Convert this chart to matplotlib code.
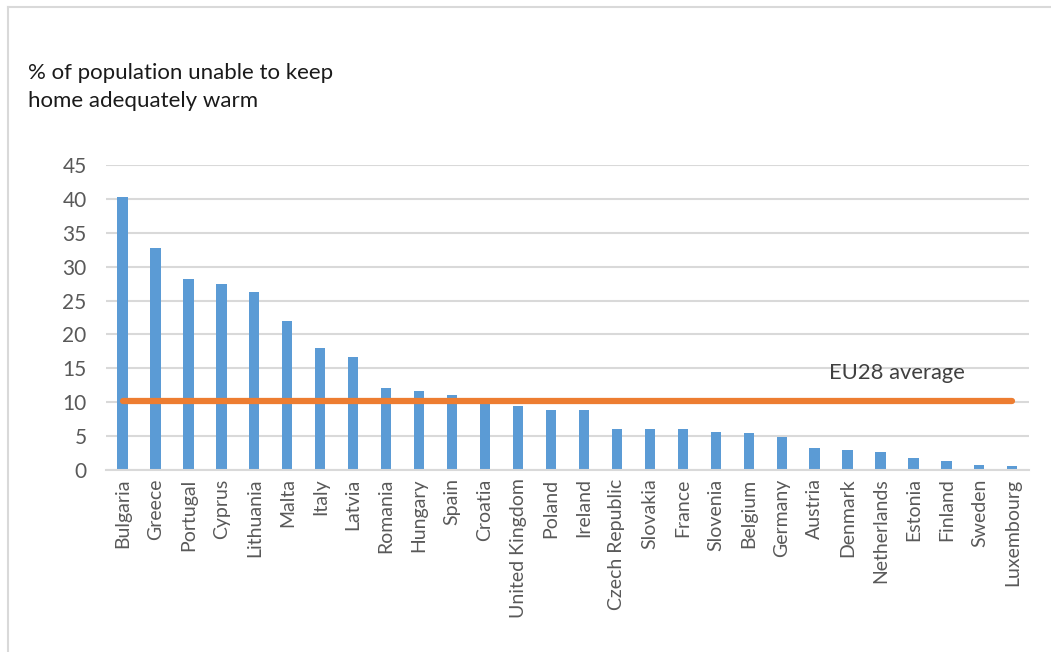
import matplotlib.pyplot as plt
from matplotlib.lines import Line2D

countries = ["Bulgaria", "Greece", "Portugal", "Cyprus", "Lithuania", "Malta", "Italy",
             "Latvia", "Romania", "Hungary", "Spain", "Croatia", "United Kingdom", "Poland",
             "Ireland", "Czech Republic", "Slovakia", "France", "Slovenia", "Belgium",
             "Germany", "Austria", "Denmark", "Netherlands", "Estonia", "Finland",
             "Sweden", "Luxembourg"]
share = [40.3, 32.8, 28.2, 27.4, 26.3, 22.0, 18.0, 16.7, 12.1, 11.6, 11.1, 9.8, 9.4, 8.9,
         8.9, 6.1, 6.1, 6.0, 5.6, 5.4, 4.9, 3.2, 3.0, 2.6, 1.8, 1.4, 0.8, 0.6]
eu28_avg = 10.2

plt.rcParams['font.family'] = ['Lato', 'DejaVu Sans']

fig = plt.figure(figsize=(10.51, 6.52), dpi=100)
ax = fig.add_axes([0.1009, 0.279, 0.878, 0.468])

x = range(len(countries))
ax.bar(x, share, width=0.31, color='#5B9BD5', zorder=2)
ax.plot([0, len(countries) - 1], [eu28_avg, eu28_avg], color='#ED7D31', lw=4.5,
        solid_capstyle='round', zorder=3)
ax.text(21.45, 14.3, "EU28 average", fontsize=15.8, color='#404040', va='center')

ax.set_xlim(-0.5, len(countries) - 0.5)
ax.set_ylim(0, 45)
ax.set_yticks(range(0, 46, 5))
ax.yaxis.grid(True, color='#D9D9D9', lw=1.5, zorder=0)
ax.set_xticks(list(x))
ax.set_xticklabels(countries, rotation=90, fontsize=14, color='#595959')
ax.tick_params(axis='y', labelsize=15, labelcolor='#595959', length=0, pad=14)
ax.tick_params(axis='x', length=0, pad=6)
for s in ['top', 'right', 'left']:
    ax.spines[s].set_visible(False)
ax.spines['bottom'].set_color('#D9D9D9')
ax.spines['bottom'].set_linewidth(1.5)

fig.text(0.0266, 0.866, "% of population unable to keep\nhome adequately warm",
         fontsize=16, color='#1a1a1a', va='center', linespacing=1.5)

# light frame along the top and left edges
fig.add_artist(Line2D([0.0076, 1.0], [0.989, 0.989], color='#D9D9D9', lw=1.5))
fig.add_artist(Line2D([0.0076, 0.0076], [0.0, 0.989], color='#D9D9D9', lw=1.5))

fig.savefig("out.png", dpi=100)
